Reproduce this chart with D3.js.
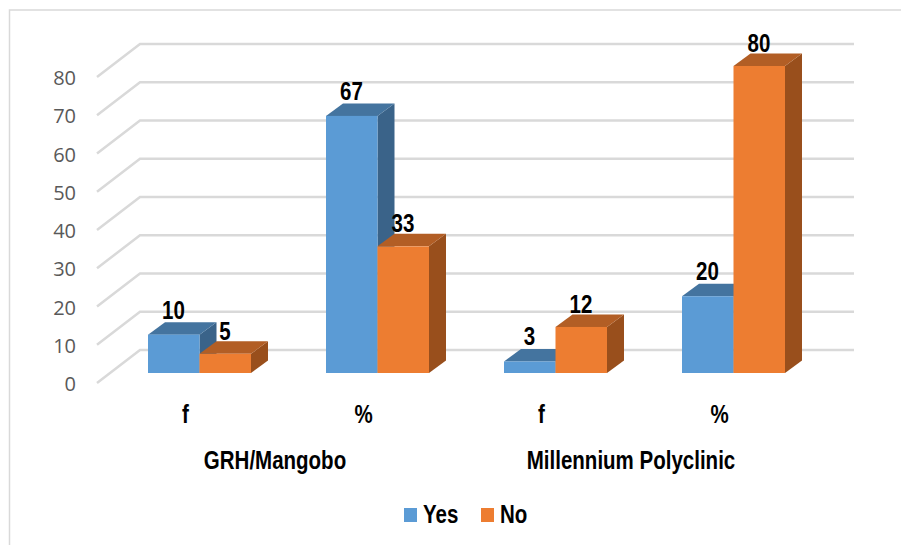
<!DOCTYPE html>
<html><head><meta charset="utf-8">
<script src="https://cdn.jsdelivr.net/npm/d3@7"></script>
<style>html,body{margin:0;padding:0;background:#fff}svg{display:block}</style>
</head><body><svg id="c" width="901" height="545"></svg>
<script>
const categories = ["f", "%", "f", "%"];
const groupLabels = ["GRH/Mangobo", "Millennium Polyclinic"];
const seriesNames = ["Yes", "No"];
const yesValues = [10, 67, 3, 20];
const noValues = [5, 33, 12, 80];
const tickValues = [0, 10, 20, 30, 40, 50, 60, 70, 80];
const colors = {Yes:["#5b9bd5","#44749f","#3a6389"], No:["#ed7d31","#b25e25","#994f1c"]};

const svg = d3.select("#c");
const depthX = 17, depthY = 12.5, wallX = 43, wallY = 33;
const font = "'Liberation Sans',sans-serif";
const squeeze = 0.82;
const x = d3.scaleBand().domain(d3.range(categories.length)).range([110.5, 822.5]);
const gx = d3.scaleBand().domain(d3.range(groupLabels.length)).range([97, 809]);
const barW = 51.5;
const y = d3.scaleLinear().domain([0, 80]).range([373, 66]);
const yBack = d3.scaleLinear().domain([0, 80]).range([350, 44]);

// frame
svg.append("path").attr("d","M9.5,545V10H901").attr("fill","none").attr("stroke","#d9d9d9").attr("stroke-width",1.5);

// gridlines and wall
const grid = svg.append("g").attr("fill","none").attr("stroke","#d9d9d9").attr("stroke-width",2.5);
tickValues.forEach(t => {
  grid.append("path").attr("d",`M${140-wallX},${yBack(t)+wallY}L140,${yBack(t)}L854,${yBack(t)}`);
});
svg.append("g").selectAll("text").data(tickValues).join("text")
  .attr("x",76).attr("y",d=>yBack(d)+wallY+1).attr("dy","0.36em").attr("text-anchor","end")
  .attr("font-family","'Open Sans',sans-serif").attr("font-size",20).attr("fill","#595959").text(d=>d);

function bar(g, i, v, s, off){
  const x0 = x(i)+x.bandwidth()/2+off, x1 = x0+barW, top = y(v), base = y(0);
  const c = colors[s];
  g.append("path").attr("fill",c[2]).attr("d",`M${x1},${top}L${x1+depthX},${top-depthY}V${base-depthY}L${x1},${base}Z`);
  g.append("path").attr("fill",c[1]).attr("d",`M${x0},${top}L${x0+depthX},${top-depthY}H${x1+depthX}L${x1},${top}Z`);
  g.append("rect").attr("x",x0).attr("y",top).attr("width",barW).attr("height",base-top).attr("fill",c[0]);
}
function lab(g, tx, ty, t, anchor){
  g.append("text").attr("transform",`translate(${tx},${ty}) scale(${squeeze},1)`).attr("text-anchor",anchor||"middle")
   .attr("font-family",font).attr("font-weight","bold").attr("font-size",25).attr("fill","#000").text(t);
}
const bars = svg.append("g");
categories.forEach((c,i)=>{ bar(bars,i,yesValues[i],"Yes",-barW); bar(bars,i,noValues[i],"No",0); });
const labels = svg.append("g");
categories.forEach((c,i)=>{
  const cx = x(i)+x.bandwidth()/2;
  lab(labels, cx-26, y(yesValues[i])-depthY-3.5, yesValues[i]);
  lab(labels, cx+25.5, y(noValues[i])-depthY-1.5, noValues[i]);
  lab(labels, cx-14, 422.5, c);
});
groupLabels.forEach((g,i)=> lab(labels, gx(i)+gx.bandwidth()/2, 469, g));

// legend
const lg = svg.append("g");
[[404,423,"Yes"],[481,500,"No"]].forEach(([sx,tx,n])=>{
  lg.append("rect").attr("x",sx).attr("y",508).attr("width",13).attr("height",14).attr("fill",colors[n][0]);
  lab(lg, tx, 523, n, "start");
});
</script></body></html>
